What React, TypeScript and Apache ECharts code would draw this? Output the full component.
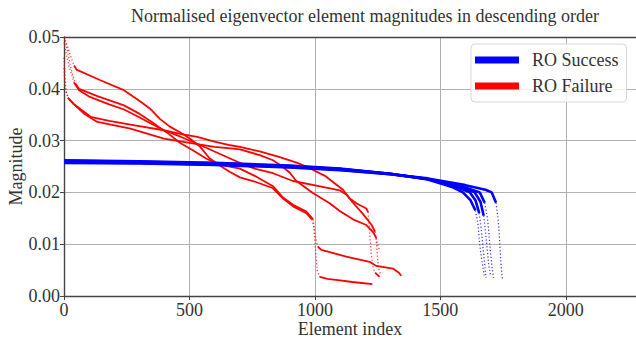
import React, { useEffect, useRef } from "react";
import * as echarts from "echarts";

type Pt = [number, number];

// RO Failure curves (element index, magnitude)
const failureA: Pt[] = [
  [0, 0.05], [12, 0.0485], [25, 0.0465], [40, 0.0445], [50, 0.0437], [143, 0.0417], [236, 0.0398],
  [303, 0.0376], [342, 0.0362], [382, 0.0342], [422, 0.0327], [462, 0.0316], [504, 0.0303],
  [543, 0.0288], [580, 0.0266], [621, 0.0252], [660, 0.0240], [701, 0.0229], [760, 0.0221],
  [833, 0.0208], [873, 0.0188], [913, 0.0173], [966, 0.016], [988, 0.0148], [996, 0.0133],
  [1000, 0.0105], [1005, 0.0072], [1010, 0.0048], [1019, 0.0037], [1050, 0.0033], [1100, 0.003],
  [1150, 0.0027], [1229, 0.0023],
];
const failureB: Pt[] = [
  [0, 0.05], [15, 0.047], [30, 0.0435], [45, 0.041], [60, 0.04], [133, 0.0386], [239, 0.0368],
  [300, 0.0352], [350, 0.0336], [420, 0.0312], [462, 0.0296], [515, 0.0281], [568, 0.0265],
  [608, 0.0256], [660, 0.0250], [701, 0.0246], [760, 0.0232], [833, 0.0212], [873, 0.019],
  [913, 0.0176], [966, 0.0163], [993, 0.0148], [998, 0.013], [1004, 0.011], [1012, 0.0095],
  [1026, 0.0089], [1125, 0.0076], [1218, 0.0066], [1245, 0.0058], [1311, 0.0053], [1335, 0.0045],
  [1344, 0.0039],
];
const failureC: Pt[] = [
  [0, 0.049], [10, 0.0465], [22, 0.044], [40, 0.0412], [60, 0.0397], [100, 0.0385], [180, 0.037],
  [239, 0.036], [300, 0.0345], [350, 0.0332], [398, 0.0320], [462, 0.0308], [531, 0.0294],
  [600, 0.0279], [660, 0.0266], [701, 0.0257], [760, 0.0246], [833, 0.0237], [913, 0.0222],
  [1006, 0.0213], [1099, 0.0204], [1125, 0.0196], [1152, 0.018], [1192, 0.0158], [1225, 0.0138],
  [1240, 0.0124], [1246, 0.01], [1250, 0.0072], [1255, 0.0052], [1262, 0.0042],
];
const failureD: Pt[] = [
  [0, 0.046], [4, 0.042], [8, 0.0395], [20, 0.038], [40, 0.037], [106, 0.0346], [180, 0.0338],
  [265, 0.0331], [398, 0.032], [462, 0.0313], [531, 0.0307], [600, 0.0298], [664, 0.0291],
  [701, 0.0288], [780, 0.0279], [860, 0.0268], [930, 0.0257], [970, 0.0249], [1040, 0.0232],
  [1112, 0.0205], [1138, 0.0189], [1165, 0.0179], [1205, 0.0169], [1212, 0.0162], [1216, 0.014],
  [1220, 0.011], [1225, 0.008], [1232, 0.0055], [1240, 0.0045], [1258, 0.0037],
];
const failureE: Pt[] = [
  [0, 0.044], [5, 0.04], [15, 0.0383], [40, 0.037], [80, 0.0352], [133, 0.0336], [265, 0.0323],
  [398, 0.0304], [531, 0.0293], [600, 0.0288], [664, 0.0285], [701, 0.0283], [780, 0.0272],
  [833, 0.0262], [870, 0.025], [900, 0.0238], [926, 0.0222], [992, 0.0199], [1059, 0.0179],
  [1099, 0.0164], [1152, 0.0148], [1205, 0.0137], [1231, 0.0124], [1245, 0.0112], [1252, 0.0098],
  [1258, 0.0086],
];

// RO Success curves
const successA: Pt[] = [
  [0, 0.0262], [300, 0.026], [600, 0.0257], [900, 0.0252], [1100, 0.0246], [1300, 0.0236],
  [1450, 0.0225], [1550, 0.021], [1590, 0.02], [1620, 0.0185], [1640, 0.0165], [1650, 0.014],
  [1657, 0.01], [1665, 0.007], [1675, 0.004],
];
const successB: Pt[] = [
  [0, 0.0261], [300, 0.0259], [600, 0.0256], [900, 0.0251], [1100, 0.0245], [1300, 0.0236],
  [1450, 0.0226], [1560, 0.0211], [1618, 0.02], [1640, 0.0185], [1655, 0.016], [1663, 0.013],
  [1669, 0.01], [1676, 0.0065], [1682, 0.0035],
];
const successC: Pt[] = [
  [0, 0.0259], [300, 0.0258], [600, 0.0255], [900, 0.025], [1100, 0.0245], [1300, 0.0236],
  [1450, 0.0226], [1570, 0.0212], [1637, 0.02], [1660, 0.0182], [1673, 0.0155], [1680, 0.0125],
  [1685, 0.01], [1693, 0.006], [1700, 0.004],
];
const successD: Pt[] = [
  [0, 0.0258], [300, 0.0257], [600, 0.0254], [900, 0.0249], [1100, 0.0244], [1300, 0.0235],
  [1450, 0.0226], [1580, 0.0213], [1657, 0.02], [1677, 0.018], [1688, 0.015], [1694, 0.012],
  [1697, 0.01], [1705, 0.006], [1712, 0.0035],
];
const successE: Pt[] = [
  [0, 0.0257], [300, 0.0256], [600, 0.0253], [900, 0.0248], [1100, 0.0243], [1300, 0.0235],
  [1450, 0.0227], [1600, 0.0214], [1680, 0.0205], [1705, 0.02], [1722, 0.018], [1730, 0.015],
  [1735, 0.012], [1737, 0.01], [1742, 0.006], [1748, 0.003],
];

const failureSeries = [failureA, failureB, failureC, failureD, failureE];
const successSeries = [successA, successB, successC, successD, successE];

const xTicks = [0, 500, 1000, 1500, 2000];
const yTicks = [0, 0.01, 0.02, 0.03, 0.04, 0.05];

const FONT = "Liberation Serif";
const TEXT = "#333333";
const SPINE = "#444444";

// approximate screen scale, used only to decide which stretches of a curve are near-vertical
const PX_PER_X = 572 / 2280;
const PX_PER_Y = 259 / 0.05;

function splitRuns(d: Pt[], limit: number) {
  const runs: { steep: boolean; pts: Pt[] }[] = [];
  for (let i = 1; i < d.length; i++) {
    const dx = (d[i][0] - d[i - 1][0]) * PX_PER_X;
    const dy = Math.abs(d[i][1] - d[i - 1][1]) * PX_PER_Y;
    const steep = dy / Math.max(dx, 0.01) > limit;
    const last = runs[runs.length - 1];
    if (last && last.steep === steep) last.pts.push(d[i]);
    else runs.push({ steep, pts: [d[i - 1], d[i]] });
  }
  return runs;
}

export default function App() {
  const ref = useRef<HTMLDivElement>(null);
  useEffect(() => {
    if (!ref.current) return;
    const chart = echarts.init(ref.current, null, { renderer: "svg" });
    const solid: any[] = [];
    const dotted: any[] = [];
    const add = (curves: Pt[][], name: string, color: string, width: number, z: number, limit: number) => {
      curves.forEach((c) =>
        splitRuns(c, limit).forEach((r) => {
          const s = {
            name,
            type: "line",
            data: r.pts,
            showSymbol: false,
            color,
            z,
            lineStyle: r.steep
              ? { color, width: 1.3, type: [1.2, 2.2], opacity: 0.75 }
              : { color, width },
          };
          (r.steep ? dotted : solid).push(s);
        })
      );
    };
    add(failureSeries, "RO Failure", "#ff0000", 1.8, 2, 2.4);
    add(successSeries, "RO Success", "#0000ff", 2.6, 3, 5);
    chart.setOption({
      animation: false,
      backgroundColor: "#ffffff",
      textStyle: { fontFamily: FONT },
      title: {
        text: "Normalised eigenvector element magnitudes in descending order",
        left: 360,
        top: 2,
        textAlign: "center",
        textStyle: { fontFamily: FONT, fontSize: 18, fontWeight: "normal", color: TEXT },
      },
      legend: {
        data: [
          { name: "RO Success", itemStyle: { color: "#0000ff" } },
          { name: "RO Failure", itemStyle: { color: "#ff0000" } },
        ],
        orient: "vertical",
        left: 471,
        top: 44,
        icon: "rect",
        itemWidth: 44,
        itemHeight: 7,
        itemGap: 6,
        padding: [6, 8, 6, 4],
        backgroundColor: "rgba(255,255,255,0.85)",
        borderColor: "#d6d6d6",
        borderWidth: 1,
        borderRadius: 4,
        textStyle: { fontFamily: FONT, fontSize: 18, color: TEXT, lineHeight: 20, padding: [0, 0, 0, 8] },
      },
      grid: { left: 64, top: 37, right: 0, bottom: 42, outerBoundsMode: "none", containLabel: false },
      xAxis: [
        {
          type: "value",
          min: 0,
          max: 2280,
          interval: 500,
          name: "Element index",
          nameLocation: "middle",
          nameGap: 24,
          nameMoveOverlap: false,
          nameTextStyle: { fontFamily: FONT, fontSize: 18, color: TEXT },
          axisLine: { show: true, lineStyle: { color: SPINE, width: 1.4 } },
          axisTick: { show: true, length: 4, lineStyle: { color: SPINE } },
          axisLabel: {
            fontFamily: FONT, fontSize: 18, color: TEXT, margin: 5,
            showMaxLabel: false,
            formatter: (v: number) => (xTicks.includes(v) ? String(v) : ""),
          },
          splitLine: { show: true, lineStyle: { color: "#b0b0b0", width: 1 } },
        },
        {
          type: "value",
          position: "top",
          min: 0,
          max: 2280,
          axisLine: { show: true, lineStyle: { color: SPINE, width: 1.4 } },
          axisTick: { show: false },
          axisLabel: { show: false },
          splitLine: { show: false },
        },
      ],
      yAxis: {
        type: "value",
        min: 0,
        max: 0.05,
        interval: 0.01,
        name: "Magnitude",
        nameLocation: "middle",
        nameGap: 39,
        nameMoveOverlap: false,
        nameTextStyle: { fontFamily: FONT, fontSize: 18, color: TEXT },
        axisLine: { show: true, lineStyle: { color: SPINE, width: 1.4 } },
        axisTick: { show: true, length: 4, lineStyle: { color: SPINE } },
        axisLabel: {
          fontFamily: FONT, fontSize: 18, color: TEXT, margin: 4,
          formatter: (v: number) => {
            const t = yTicks.find((k) => Math.abs(k - v) < 1e-9);
            return t === undefined ? "" : t.toFixed(2);
          },
        },
        splitLine: { show: true, lineStyle: { color: "#b0b0b0", width: 1 } },
      },
      series: [...solid, ...dotted],
    });
    return () => chart.dispose();
  }, []);
  return (
    <div
      ref={ref}
      style={{ position: "fixed", left: 0, top: 0, width: 636, height: 338, background: "#fff" }}
    />
  );
}
